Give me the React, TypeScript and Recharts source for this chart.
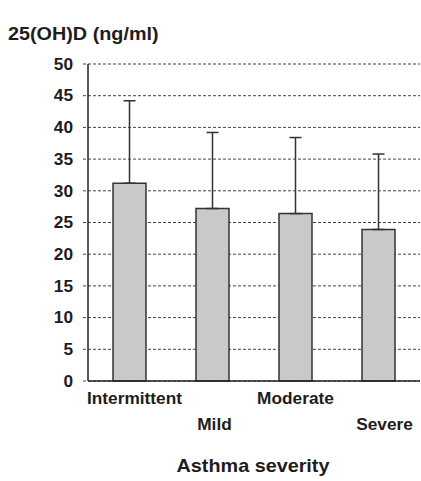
import React from "react";
import { BarChart, Bar, XAxis, YAxis, CartesianGrid, ErrorBar } from "recharts";

const categories = ["Intermittent", "Mild", "Moderate", "Severe"];
const means = [31.2, 27.2, 26.4, 23.9];
const sds = [13.0, 12.0, 12.0, 11.9];
const yTicks = [0, 5, 10, 15, 20, 25, 30, 35, 40, 45, 50];
const yTitle = "25(OH)D (ng/ml)";
const xTitle = "Asthma severity";

const data = categories.map((c, i) => ({ name: c, value: means[i], err: [0, sds[i]] }));

const FONT = "'Liberation Sans', Arial, Helvetica, sans-serif";
const INK = "#1f1c1d";
const SX = 1.08;
const labelShift = [5, 2, 0, 6];

const YTick = (props: any) => {
  const { x, y, payload } = props;
  return (
    <g transform={`translate(${x},${y})`}>
      <text transform={`scale(${SX},1)`} textAnchor="end" dy="0.36em" fontFamily={FONT} fontWeight="bold" fontSize={16} fill={INK}>
        {payload.value}
      </text>
    </g>
  );
};

const XTick = (props: any) => {
  const { x, y, payload, index } = props;
  const dy = index % 2 === 0 ? 22.5 : 48.5;
  const dx = labelShift[index] ?? 0;
  return (
    <g transform={`translate(${x + dx},${y + dy})`}>
      <text transform={`scale(${SX},1)`} textAnchor="middle" fontFamily={FONT} fontWeight="bold" fontSize={16} fill={INK}>
        {payload.value}
      </text>
    </g>
  );
};

const YTitle = (props: any) => {
  const vb = props.viewBox;
  return (
    <g transform={`translate(8,${vb.y - 24.5})`}>
      <text transform={`scale(1.1,1)`} textAnchor="start" fontFamily={FONT} fontWeight="bold" fontSize={18} fill={INK}>
        {yTitle}
      </text>
    </g>
  );
};

const XTitle = (props: any) => {
  const vb = props.viewBox;
  return (
    <g transform={`translate(${vb.x + vb.width / 2 - 1},${vb.y + 90.5})`}>
      <text transform={`scale(1.1,1)`} textAnchor="middle" fontFamily={FONT} fontWeight="bold" fontSize={18} fill={INK}>
        {xTitle}
      </text>
    </g>
  );
};

export default function App() {
  return (
    <div style={{ position: "absolute", left: 0, top: 0, width: 421, height: 481, background: "#fff" }}>
      <BarChart width={421} height={481} data={data} margin={{ top: 64, right: 1, bottom: 40, left: 0 }} barCategoryGap={0}>
        <CartesianGrid horizontal vertical={false} stroke="#444" strokeDasharray="3 2" strokeWidth={1} />
        <XAxis
          dataKey="name"
          height={60}
          tickSize={0}
          tickMargin={0}
          tickLine={false}
          axisLine={{ stroke: "#222", strokeWidth: 1.5 }}
          tick={<XTick />}
          interval={0}
          label={<XTitle />}
        />
        <YAxis
          width={88}
          domain={[0, 50]}
          ticks={yTicks}
          interval={0}
          tickSize={5}
          tickMargin={10}
          tickLine={{ stroke: "#444", strokeDasharray: "3 2" }}
          axisLine={{ stroke: "#222", strokeWidth: 1.5 }}
          tick={<YTick />}
          label={<YTitle />}
        />
        <Bar dataKey="value" fill="#c8c9cb" stroke="#333" strokeWidth={1.5} barSize={33} isAnimationActive={false}>
          <ErrorBar dataKey="err" direction="y" width={6} stroke="#333" strokeWidth={1.5} isAnimationActive={false} />
        </Bar>
      </BarChart>
    </div>
  );
}
